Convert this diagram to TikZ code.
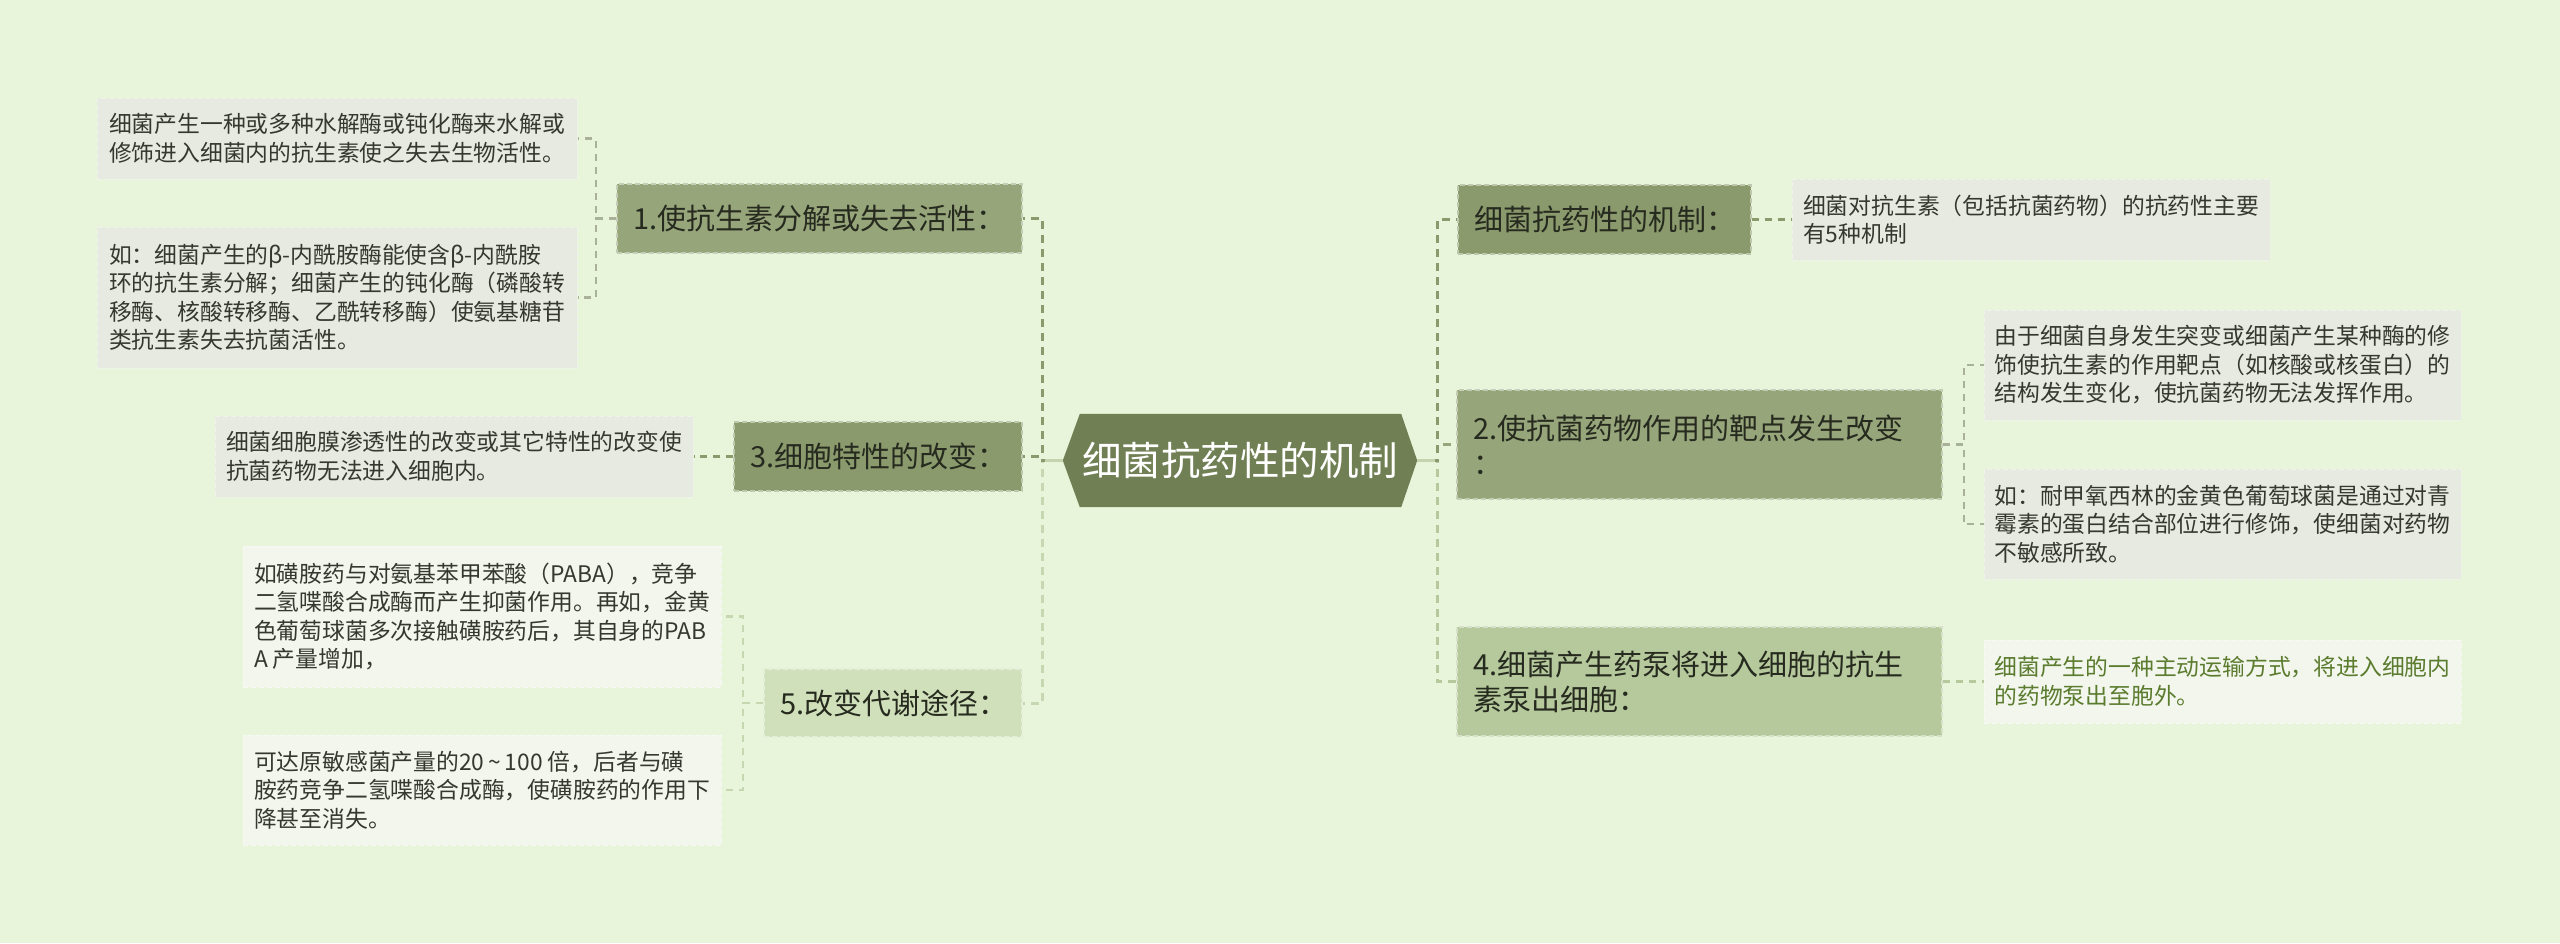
\documentclass[tikz,border=0pt]{standalone}
\usepackage{fontspec}
\setmainfont{Noto Sans CJK SC}
\usetikzlibrary{calc}
\pgfdeclarelayer{back}
\pgfdeclarelayer{edges}
\pgfsetlayers{back,edges,main}
\definecolor{bgc}{HTML}{E8F5DB}
\definecolor{hexc}{HTML}{718054}
\definecolor{fa}{HTML}{97A57A}
\definecolor{fb}{HTML}{8A9A6C}
\definecolor{fc}{HTML}{D0E0BA}
\definecolor{fd}{HTML}{B6C99C}
\definecolor{lgrey}{HTML}{E6EAE0}
\definecolor{lwhite}{HTML}{F2F6EC}
\definecolor{ltext}{HTML}{36382F}
\definecolor{ttext}{HTML}{262A1F}
\definecolor{gtext}{HTML}{5B7B2E}
\definecolor{egrey}{HTML}{A9B198}
\definecolor{elight}{HTML}{C6D8B2}
\definecolor{etrunk}{HTML}{C4D4AE}
\begin{document}
\begin{tikzpicture}[x=1pt,y=-1pt,
  lone/.style={rectangle, inner xsep=16pt, inner ysep=0pt, align=left,
    font=\fontsize{29}{35}\selectfont, text=ttext,
    draw=white!45!#1, line width=1.4pt, dash pattern=on 5pt off 3pt, fill=#1},
  leaf/.style={rectangle, inner xsep=0pt, inner ysep=0pt, align=left,
    font=\fontsize{22.8}{28.5}\selectfont, text=ltext, fill=#1,
    draw=white!40!#1, line width=1pt, dash pattern=on 5pt off 3pt},
  trunk/.style={draw=#1, line width=3pt, dash pattern=on 8pt off 6pt},
  twig/.style={draw=#1, line width=2.2pt, dash pattern=on 7pt off 6pt},
]
\useasboundingbox (0,0) rectangle (2560,943);
\begin{pgfonlayer}{back}
\fill[bgc] (0,0) rectangle (2560,943);
\end{pgfonlayer}

% centre
\node[minimum width=354pt, minimum height=93pt, inner sep=0pt] (c) at (1240,460.5) {};
\begin{pgfonlayer}{back}
\fill[hexc] (c.west) -- ($(c.north west)+(17,0)$) -- ($(c.north east)+(-16,0)$) -- (c.east)
  -- ($(c.south east)+(-16,0)$) -- ($(c.south west)+(17,0)$) -- cycle;
\end{pgfonlayer}
\node[text=white, font=\fontsize{39.5}{46}\selectfont, inner sep=0pt] (ct) at (c) {细菌抗药性的机制};

% left main branches
\node[lone=fa, text width=373pt, minimum height=69pt] (b1) at (819.5,218.5) {1.使抗生素分解或失去活性：};
\node[lone=fb, text width=256pt, minimum height=69pt] (b3) at (878,456.5) {3.细胞特性的改变：};
\node[lone=fc, text width=226pt, minimum height=68pt] (b5) at (893,703) {5.改变代谢途径：};

% right main branches
\node[lone=fb, text width=261pt, minimum height=69pt] (r0) at (1604.5,219.5) {细菌抗药性的机制：};
\node[lone=fa, text width=453pt, minimum height=109pt] (b2) at (1699.5,444.5) {2.使抗菌药物作用的靶点发生改变\\：};
\node[lone=fd, text width=453pt, minimum height=109pt] (b4) at (1699.5,681.5) {4.细菌产生药泵将进入细胞的抗生\\素泵出细胞：};

% leaves left
\node[leaf=lgrey, minimum width=480pt, minimum height=81pt] (l1a) at (337,138.5)
  {细菌产生一种或多种水解酶或钝化酶来水解或\\修饰进入细菌内的抗生素使之失去生物活性。};
\node[leaf=lgrey, minimum width=480pt, minimum height=141pt] (l1b) at (337,297.5)
  {如：细菌产生的β-内酰胺酶能使含β-内酰胺\\环的抗生素分解；细菌产生的钝化酶（磷酸转\\移酶、核酸转移酶、乙酰转移酶）使氨基糖苷\\类抗生素失去抗菌活性。};
\node[leaf=lgrey, minimum width=478pt, minimum height=81pt] (l3) at (454,456.5)
  {细菌细胞膜渗透性的改变或其它特性的改变使\\抗菌药物无法进入细胞内。};
\node[leaf=lwhite, minimum width=478pt, minimum height=141pt] (l5a) at (482,616.5)
  {如磺胺药与对氨基苯甲苯酸（PABA），竞争\\二氢喋酸合成酶而产生抑菌作用。再如，金黄\\色葡萄球菌多次接触磺胺药后，其自身的PAB\\A~产量增加，};
\node[leaf=lwhite, minimum width=478pt, minimum height=110pt] (l5b) at (482,790)
  {可达原敏感菌产量的20\,\textasciitilde\,100~倍，后者与磺\\胺药竞争二氢喋酸合成酶，使磺胺药的作用下\\降甚至消失。};

% leaves right
\node[leaf=lgrey, minimum width=478pt, minimum height=81pt] (lr0) at (2031,219.5)
  {细菌对抗生素（包括抗菌药物）的抗药性主要\\有5种机制};
\node[leaf=lgrey, minimum width=477pt, minimum height=110pt] (l2a) at (2222.5,365)
  {由于细菌自身发生突变或细菌产生某种酶的修\\饰使抗生素的作用靶点（如核酸或核蛋白）的\\结构发生变化，使抗菌药物无法发挥作用。};
\node[leaf=lgrey, minimum width=477pt, minimum height=110pt] (l2b) at (2222.5,524)
  {如：耐甲氧西林的金黄色葡萄球菌是通过对青\\霉素的蛋白结合部位进行修饰，使细菌对药物\\不敏感所致。};
\node[leaf=lwhite, text=gtext, minimum width=477pt, minimum height=83pt] (l4) at (2222.5,681.5)
  {细菌产生的一种主动运输方式，将进入细胞内\\的药物泵出至胞外。};

\begin{pgfonlayer}{edges}
% trunk left
\draw[trunk=elight] (c.west) -- ++(-20,0) |- (b5.east);
\draw[trunk=fb] (c.west) -- ++(-20,0) |- (b1.east);
\draw[trunk=fb] (c.west) -- ++(-20,0) |- (b3.east);
\draw[etrunk, line width=3pt] (c.west) -- ++(-18,0);
% trunk right
\draw[trunk=fd] (c.east) -- ++(20,0) |- (b4.west);
\draw[trunk=fa] (c.east) -- ++(20,0) |- (b2.west);
\draw[trunk=fb] (c.east) -- ++(20,0) |- (r0.west);
\draw[etrunk, line width=3pt] (c.east) -- ++(18,0);
% twigs left
\draw[twig=egrey] (b1.west) -- ++(-20,0) |- (l1a.east);
\draw[twig=egrey] (b1.west) -- ++(-20,0) |- (l1b.east);
\draw[twig=fb] (b3.west) -- (l3.east);
\draw[twig=elight] (b5.west) -- ++(-20,0) |- (l5a.east);
\draw[twig=elight] (b5.west) -- ++(-20,0) |- (l5b.east);
% twigs right
\draw[twig=fb] (r0.east) -- (lr0.west);
\draw[twig=egrey] (b2.east) -- ++(21,0) |- (l2a.west);
\draw[twig=egrey] (b2.east) -- ++(21,0) |- (l2b.west);
\draw[twig=fd] (b4.east) -- (l4.west);
\end{pgfonlayer}
\end{tikzpicture}
\end{document}
